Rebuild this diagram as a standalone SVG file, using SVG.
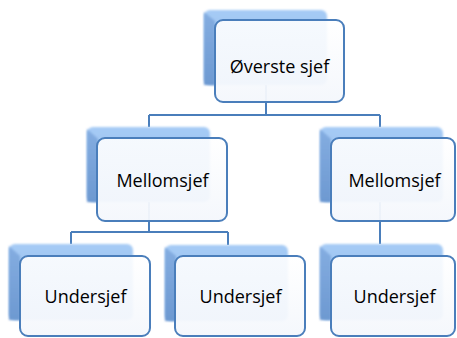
<svg xmlns="http://www.w3.org/2000/svg" width="457" height="338" viewBox="0 0 457 338">
  <defs>
    <linearGradient id="gBack" x1="0" y1="0" x2="0" y2="1">
      <stop offset="0" stop-color="#a6cbf5"/>
      <stop offset="1" stop-color="#90b9ea"/>
    </linearGradient>
    <linearGradient id="gSide" x1="0" y1="0" x2="0" y2="1">
      <stop offset="0" stop-color="#84ade1"/>
      <stop offset="1" stop-color="#6d99d1"/>
    </linearGradient>
    <linearGradient id="gFront" x1="0" y1="0" x2="0" y2="1">
      <stop offset="0" stop-color="#ffffff" stop-opacity="0.9"/>
      <stop offset="1" stop-color="#f4f7fc" stop-opacity="0.96"/>
    </linearGradient>
    <filter id="soft" x="-10%" y="-10%" width="120%" height="120%">
      <feGaussianBlur stdDeviation="0.8"/>
    </filter>
  </defs>
  <style>
    .back { fill: url(#gBack); filter: url(#soft); }
    .side { fill: url(#gSide); filter: url(#soft); }
    .front { fill: url(#gFront); stroke: #4a7ebb; stroke-width: 2; }
    .conn { fill: none; stroke: #4a7ebb; stroke-width: 2; }
    .lbl { font-family: "Open Sans", "Noto Sans", "Liberation Sans", sans-serif; font-size: 18px; fill: #000000; text-anchor: middle; }
  </style>
  <rect width="457" height="338" fill="#ffffff"/>

  <g id="connectors">
    <path class="conn" d="M266 85 V115 M149 115 H380 M149 115 V127 M380 115 V127"/>
    <path class="conn" d="M149 202 V232 M71 232 H228 M71 232 V244 M228 232 V245"/>
    <path class="conn" d="M380 202 V244"/>
  </g>

  <g id="node-top">
    <rect class="back" x="204" y="10" width="123" height="75" rx="6"/>
    <polygon class="side" points="204,12 215,21 215,85 204,85"/>
    <rect class="front" x="215" y="20" width="129" height="82" rx="8"/>
    <text class="lbl" x="279.5" y="73">Øverste sjef</text>
  </g>

  <g id="node-mid-left">
    <rect class="back" x="87" y="127" width="123" height="75" rx="6"/>
    <polygon class="side" points="87,129 98,139 98,202 87,202"/>
    <rect class="front" x="97" y="138" width="130" height="83" rx="8"/>
    <text class="lbl" x="162.5" y="187">Mellomsjef</text>
  </g>

  <g id="node-mid-right">
    <rect class="back" x="320" y="127" width="123" height="75" rx="6"/>
    <polygon class="side" points="320,129 331,139 331,202 320,202"/>
    <rect class="front" x="331" y="138" width="124" height="83" rx="8"/>
    <text class="lbl" x="394.5" y="187">Mellomsjef</text>
  </g>

  <g id="node-bottom-left">
    <rect class="back" x="9" y="244" width="124" height="76" rx="6"/>
    <polygon class="side" points="9,246 20,256 20,320 9,320"/>
    <rect class="front" x="20" y="256" width="130" height="80" rx="8"/>
    <text class="lbl" x="85.5" y="303">Undersjef</text>
  </g>

  <g id="node-bottom-mid">
    <rect class="back" x="165" y="245" width="123" height="76" rx="6"/>
    <polygon class="side" points="165,247 176,256 176,321 165,321"/>
    <rect class="front" x="175" y="256" width="130" height="80" rx="8"/>
    <text class="lbl" x="240.5" y="303">Undersjef</text>
  </g>

  <g id="node-bottom-right">
    <rect class="back" x="320" y="244" width="123" height="76" rx="6"/>
    <polygon class="side" points="320,246 331,256 331,320 320,320"/>
    <rect class="front" x="331" y="256" width="124" height="80" rx="8"/>
    <text class="lbl" x="394.5" y="303">Undersjef</text>
  </g>
</svg>
